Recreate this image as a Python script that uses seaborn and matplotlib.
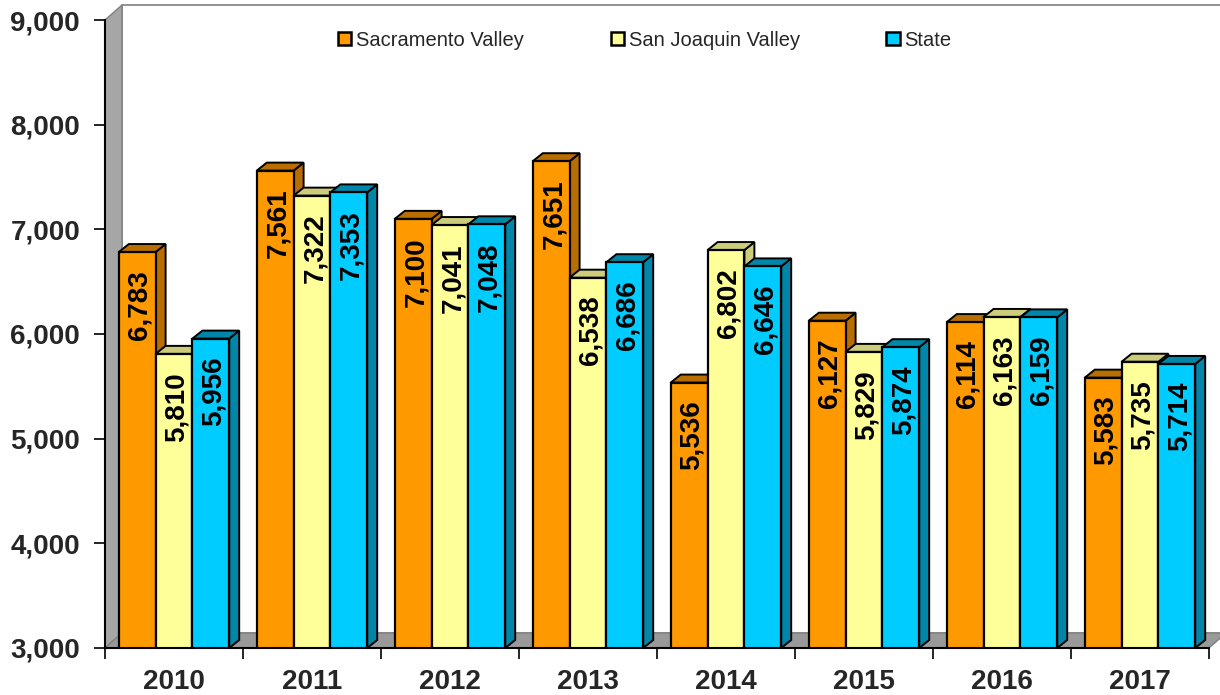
import numpy as np
import pandas as pd
import matplotlib
matplotlib.use("Agg")
import matplotlib.pyplot as plt
from matplotlib.patches import Polygon, Rectangle
from matplotlib.ticker import FuncFormatter, FixedLocator
import seaborn as sns

years = ["2010", "2011", "2012", "2013", "2014", "2015", "2016", "2017"]
sacramento = [6783, 7561, 7100, 7651, 5536, 6127, 6114, 5583]
san_joaquin = [5810, 7322, 7041, 6538, 6802, 5829, 6163, 5735]
state = [5956, 7353, 7048, 6686, 6646, 5874, 6159, 5714]
series = ["Sacramento Valley", "San Joaquin Valley", "State"]
colors = ["#FF9900", "#FFFF99", "#00CCFF"]
dark_colors = ["#B86E00", "#CCCC7A", "#0086A8"]

df = pd.DataFrame({
    "Year": years * 3,
    "Region": [s for s in series for _ in years],
    "Value": sacramento + san_joaquin + state,
})

sns.set_theme(style="white")
plt.rcParams["font.family"] = ["Liberation Sans", "DejaVu Sans"]

fig = plt.figure(figsize=(12.2, 6.95), dpi=100)
ax = fig.add_axes([105 / 1220, 47 / 695, 1104 / 1220, 628 / 695])

YMIN, YMAX = 3000, 9000
ax.set_xlim(-0.5, len(years) - 0.5)
ax.set_ylim(YMIN, YMAX)

# pixel -> data scale for the fake 3D depth
px_x = (len(years)) / 1104
px_y = (YMAX - YMIN) / 628

# back wall, side wall and floor
WX, WY = 17 * px_x, 15 * px_y
x0, x1 = -0.5, len(years) - 0.5
ax.add_patch(Rectangle((x0 + WX, YMIN + WY), x1 - x0, YMAX - YMIN, facecolor="white",
                       edgecolor="#808080", lw=1.2, clip_on=False, zorder=0.1))
ax.add_patch(Polygon([(x0, YMIN), (x0, YMAX), (x0 + WX, YMAX + WY), (x0 + WX, YMIN + WY)],
                     closed=True, facecolor="#A6A6A6", edgecolor="#808080", lw=1,
                     clip_on=False, zorder=0.2))
ax.add_patch(Polygon([(x0, YMIN), (x1, YMIN), (x1 + WX, YMIN + WY), (x0 + WX, YMIN + WY)],
                     closed=True, facecolor="#999999", edgecolor="#808080", lw=1,
                     clip_on=False, zorder=0.2))

sns.barplot(data=df, x="Year", y="Value", hue="Region", palette=colors, width=0.8,
            edgecolor="black", linewidth=1.6, saturation=1, ax=ax, legend=True)
ax.set_ylim(YMIN, YMAX)
ax.set_xlim(-0.5, len(years) - 0.5)

# 3D faces for each bar
DX, DY = 10 * px_x, 8 * px_y
n = len(years)
bars = [p for p in ax.patches if isinstance(p, Rectangle) and p.get_width() < 0.5
        and p.get_height() > 0][: n * 3]
for i, bar in enumerate(bars):
    j = i // n
    z = 2 + j * 0.1
    bar.set_zorder(z + 0.05)
    bx, bw, top = bar.get_x(), bar.get_width(), bar.get_height()
    side = Polygon([(bx + bw, YMIN), (bx + bw, top), (bx + bw + DX, top + DY),
                    (bx + bw + DX, YMIN + DY)], closed=True,
                   facecolor=dark_colors[j], edgecolor="black", lw=1.4, zorder=z)
    lid = Polygon([(bx, top), (bx + bw, top), (bx + bw + DX, top + DY), (bx + DX, top + DY)],
                  closed=True, facecolor=dark_colors[j], edgecolor="black", lw=1.4, zorder=z)
    ax.add_patch(side)
    ax.add_patch(lid)
    ax.annotate(f"{int(top):,}", (bx + bw / 2 + 0.02, top), xytext=(0, -13),
                textcoords="offset points", rotation=90, ha="center", va="top",
                fontsize=20, fontweight="bold", color="black", zorder=5)

# axes styling
for s in ["top", "right"]:
    ax.spines[s].set_visible(False)
for s in ["left", "bottom"]:
    ax.spines[s].set_color("black")
    ax.spines[s].set_linewidth(1.5)
    ax.spines[s].set_zorder(6)

ax.set_yticks(range(YMIN, YMAX + 1, 1000))
ax.yaxis.set_major_formatter(FuncFormatter(lambda v, p: f"{int(v):,}"))
ax.tick_params(axis="y", direction="out", length=8, width=1.2, color="black", pad=10,
               labelsize=20, left=True)
for lab in ax.get_yticklabels():
    lab.set_fontweight("bold")

ax.xaxis.set_minor_locator(FixedLocator(np.arange(-0.5, n, 1.0)))
ax.tick_params(axis="x", which="major", length=0, pad=15, labelsize=20)
ax.tick_params(axis="x", which="minor", direction="out", length=8, width=1.2,
               color="black", bottom=True)
for lab in ax.get_xticklabels():
    lab.set_fontweight("bold")
ax.set_xlabel("")
ax.set_ylabel("")
ax.grid(False)

handles, labels = ax.get_legend_handles_labels()
for h in handles:
    h.set_edgecolor("black")
    h.set_linewidth(1.8)
ax.legend(handles, labels, loc="center", bbox_to_anchor=(0.489, 1 - 20 / 628), ncol=3,
          frameon=False, fontsize=14.5, handlelength=0.65, handleheight=0.65,
          handletextpad=0.25, columnspacing=4.3)

fig.savefig("out.png", dpi=100)
